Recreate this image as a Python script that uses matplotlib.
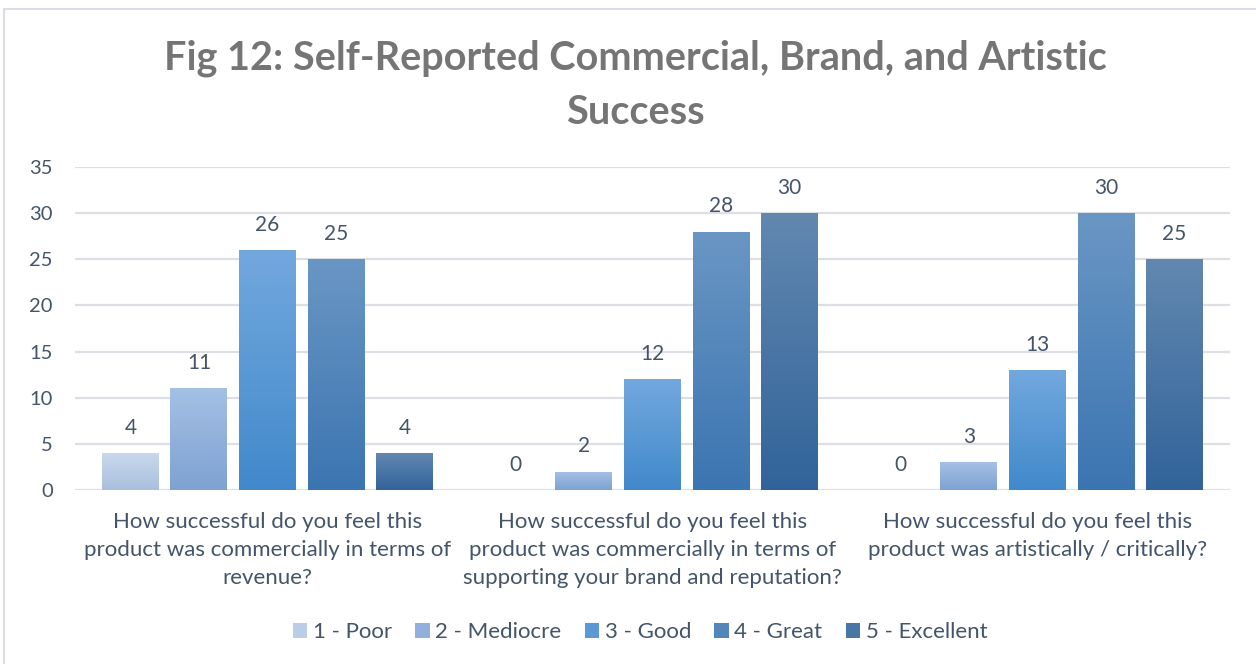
import numpy as np
import matplotlib
matplotlib.use("Agg")
import matplotlib.pyplot as plt
from matplotlib.colors import LinearSegmentedColormap, to_rgb
from matplotlib.patches import Patch, Rectangle

plt.rcParams['font.family'] = ['Lato', 'DejaVu Sans']

# ---- data ----
questions = [
    "How successful do you feel this\nproduct was commercially in terms of\nrevenue?",
    "How successful do you feel this\nproduct was commercially in terms of\nsupporting your brand and reputation?",
    "How successful do you feel this\nproduct was artistically / critically?",
]
ratings = ["1 - Poor", "2 - Mediocre", "3 - Good", "4 - Great", "5 - Excellent"]
poor = [4, 0, 0]
mediocre = [11, 2, 3]
good = [26, 12, 13]
great = [25, 28, 30]
excellent = [4, 30, 25]
series = [poor, mediocre, good, great, excellent]
y_ticks = [0, 5, 10, 15, 20, 25, 30, 35]
title = "Fig 12: Self-Reported Commercial, Brand, and Artistic\nSuccess"

# top / bottom colours of each series' vertical gradient
grad_top = ["#c9d8ee", "#a4c0e5", "#72a8de", "#6a96c4", "#6288b0"]
grad_bottom = ["#aabfdd", "#7ea2d2", "#4189cb", "#3b75b1", "#31639a"]

TEXT = "#44546a"
GRID = "#dcdfe4"

W, H = 1256, 664
fig = plt.figure(figsize=(W / 100, H / 100), dpi=100)
fig.patch.set_facecolor("white")

# chart frame
fig.patches.append(Rectangle((4 / W, -0.1), 1.2, (H - 9) / H + 0.1,
                             transform=fig.transFigure, fill=False,
                             edgecolor="#d9dde4", linewidth=1.5))

ax = fig.add_axes([75 / W, 174 / H, (1230 - 75) / W, (490 - 167) / H])

n_series = len(series)
slot = 0.178
bar_w = 0.148
x = np.arange(len(questions))

for i, vals in enumerate(series):
    offs = (i - (n_series - 1) / 2) * slot
    mid = tuple((np.array(to_rgb(grad_top[i])) + np.array(to_rgb(grad_bottom[i]))) / 2)
    bars = ax.bar(x + offs, vals, width=bar_w, color=mid, zorder=2)
    cmap = LinearSegmentedColormap.from_list(f"g{i}", [grad_bottom[i], grad_top[i]])
    grad = np.linspace(0, 1, 256).reshape(-1, 1)
    for b, v in zip(bars, vals):
        if v > 0:
            bx, bw = b.get_x(), b.get_width()
            im = ax.imshow(grad, extent=[bx, bx + bw, 0, v], origin="lower",
                           aspect="auto", cmap=cmap, zorder=3)
            im.set_clip_path(b)
        ax.annotate(f"{v}", (b.get_x() + b.get_width() / 2, v),
                    xytext=(0, 11), textcoords="offset points",
                    ha="center", va="bottom", fontsize=15, color=TEXT, zorder=4)

ax.set_xlim(-0.5, len(questions) - 0.5)
ax.set_ylim(0, 35)
ax.set_yticks(y_ticks)
ax.set_yticklabels([str(t) for t in y_ticks], fontsize=14.5, color=TEXT)
ax.tick_params(axis="y", length=0, pad=16)
ax.set_xticks(x)
ax.set_xticklabels(questions, fontsize=16, color=TEXT, linespacing=1.5)
ax.tick_params(axis="x", length=0, pad=16)
ax.yaxis.grid(True, color=GRID, linewidth=1.6, zorder=0)
ax.set_axisbelow(True)
for s in ax.spines.values():
    s.set_visible(False)

fig.text(635 / W, 1 - 85 / H, title, ha="center", va="center",
         fontsize=28.5, fontweight="bold", color="#757575", linespacing=1.55)

handles = [Patch(facecolor=tuple((np.array(to_rgb(t)) + np.array(to_rgb(b))) / 2),
                 edgecolor="none") for t, b in zip(grad_top, grad_bottom)]
fig.legend(handles, ratings, loc="center", bbox_to_anchor=(640 / W, 1 - 632 / H),
           ncol=5, frameon=False, fontsize=16, labelcolor=TEXT,
           handlelength=0.65, handleheight=0.65, handletextpad=0.25,
           columnspacing=1.05)

fig.savefig("out.png", dpi=100, facecolor="white")
